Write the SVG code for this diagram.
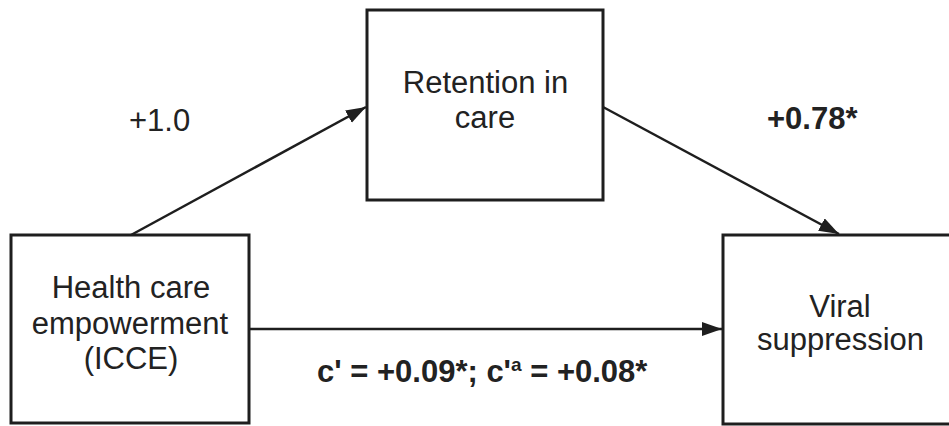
<svg xmlns="http://www.w3.org/2000/svg" width="949" height="426" viewBox="0 0 949 426">
  <style>
    .box { fill: #ffffff; stroke: #1e1e1e; stroke-width: 3; }
    .edge { fill: none; stroke: #1e1e1e; stroke-width: 2.5; }
    .t { font-family: "Liberation Sans", Arial, sans-serif; font-size: 31px; fill: #222222; }
    .c { text-anchor: middle; }
    .b { font-weight: bold; }
  </style>
  <defs>
    <marker id="arrow" markerUnits="userSpaceOnUse" markerWidth="22" markerHeight="16" refX="20" refY="7" orient="auto">
      <path d="M0,0 L20,7 L0,14 z" fill="#1e1e1e"/>
    </marker>
  </defs>
  <rect x="0" y="0" width="949" height="426" fill="#ffffff"/>

  <g id="connectors">
    <line class="edge" x1="131" y1="235" x2="366" y2="107" marker-end="url(#arrow)"/>
    <line class="edge" x1="603" y1="107" x2="839" y2="234" marker-end="url(#arrow)"/>
    <line class="edge" x1="249" y1="329" x2="722" y2="329" marker-end="url(#arrow)"/>
    <text class="t" x="129" y="131">+1.0</text>
    <text class="t b" x="767" y="129">+0.78*</text>
    <text class="t b" x="317" y="382">c' = +0.09*; c'<tspan font-size="19" dy="-11">a</tspan><tspan dy="11"> = +0.08*</tspan></text>
  </g>

  <g id="node-retention">
    <rect class="box" x="367" y="10" width="236" height="190"/>
    <text class="t c" x="485.5" y="93">Retention in</text>
    <text class="t c" x="485" y="128">care</text>
  </g>

  <g id="node-icce">
    <rect class="box" x="11" y="235" width="238" height="188"/>
    <text class="t c" x="131" y="298">Health care</text>
    <text class="t c" x="130" y="334">empowerment</text>
    <text class="t c" x="131" y="369">(ICCE)</text>
  </g>

  <g id="node-viral">
    <rect class="box" x="723" y="235" width="236" height="189"/>
    <text class="t c" x="840" y="317">Viral</text>
    <text class="t c" x="840.5" y="350">suppression</text>
  </g>
</svg>
